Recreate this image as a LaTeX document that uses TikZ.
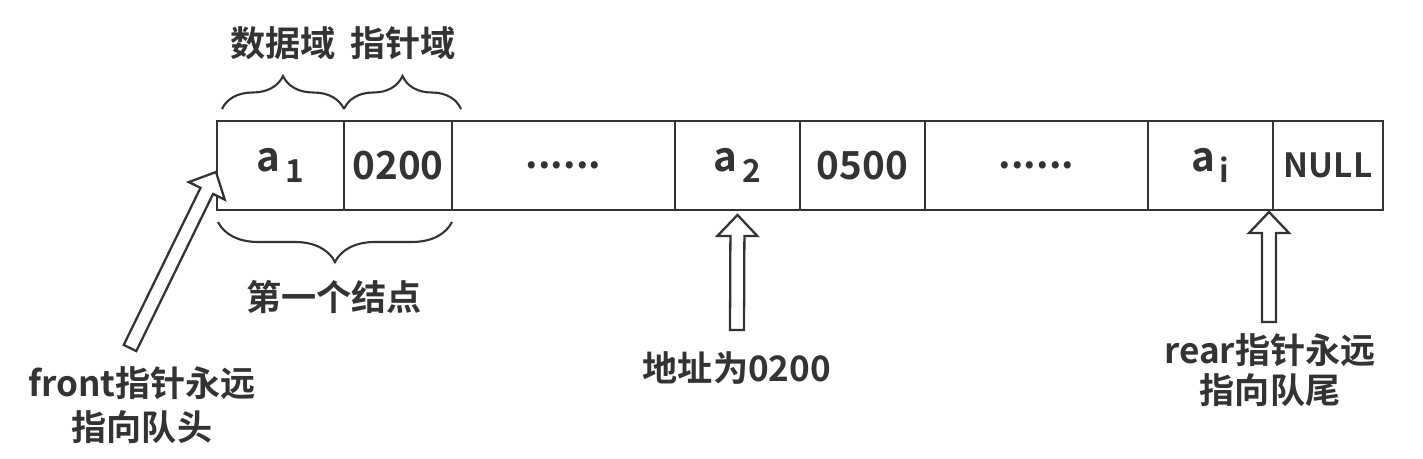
\documentclass[tikz,border=0pt]{standalone}
\usepackage{fontspec}
\setmainfont{Noto Sans CJK SC}[BoldFont={Noto Sans CJK SC Bold}]
\usetikzlibrary{positioning,calc,decorations.pathreplacing}

\definecolor{inkgray}{HTML}{333333}

% element a with its index
\newcommand{\elem}[1]{{\fontsize{23}{24}\selectfont a}\hspace{0.12em}\raisebox{-0.55ex}{\fontsize{18}{20}\selectfont #1}}

% hollow block arrow from #1 (tail) to #2 (tip)
\newcommand{\hollowarrow}[2]{%
  \coordinate (hb) at ($(#2)!0.42cm!(#1)$);
  \draw[hollow] ($(#1)!0.14cm!90:(#2)$) -- ($(hb)!0.14cm!90:(#2)$)
    -- ($(hb)!0.4cm!90:(#2)$) -- (#2) -- ($(hb)!0.4cm!-90:(#2)$)
    -- ($(hb)!0.14cm!-90:(#2)$) -- ($(#1)!0.14cm!-90:(#2)$) -- cycle;
}

\tikzset{
  cell/.style={draw=inkgray, line width=1.6pt, minimum height=1.78cm,
    inner sep=0pt, outer sep=0pt, text=inkgray,
    font=\bfseries\fontsize{22}{26}\selectfont},
  lbl/.style={text=inkgray, font=\bfseries\fontsize{20}{25}\selectfont,
    align=center, inner sep=0pt},
  brc/.style={draw=inkgray, line width=1.2pt, decorate,
    decoration={brace, amplitude=#1}},
  hollow/.style={draw=inkgray, line width=1.3pt, fill=white, line join=miter}
}

\begin{document}
\begin{tikzpicture}[x=0.02cm,y=-0.02cm]
    \useasboundingbox (0,0) rectangle (1423,459);

    % Cells of the queue
    \foreach \nm/\xa/\xb/\txt in {
        a1/217/344/{\elem{1}},
        p1/344/452/{0200},
        dots1/452/675/{......},
        a2/675/800/{\elem{2}},
        p2/800/925/{0500},
        dots2/925/1148/{......},
        ai/1148/1273/{\elem{i}},
        pnull/1273/1383/{\fontsize{19}{20}\selectfont NULL}} {
        \node[cell, minimum width={(\xb-\xa)*0.02cm}] (\nm) at ({(\xa+\xb)/2},165.5) {\txt};
    }

    % Braces
    \draw[brc=0.66cm] ($(a1.north west)+(5,-12)$) -- ($(a1.north east)+(0,-12)$)
        coordinate[midway] (datatip);
    \draw[brc=0.66cm] ($(p1.north west)+(0,-12)$) -- ($(p1.north east)+(9,-12)$)
        coordinate[midway] (ptrtip);
    \draw[brc=0.8cm] ($(p1.south east)+(0,12)$) -- ($(a1.south west)+(1,12)$)
        coordinate[midway] (nodetip);

    \node[lbl] (datalbl) at (283,43) {数据域};
    \node[lbl] (ptrlbl) at (403,43) {指针域};
    \node[lbl] (nodelbl) at (334,297) {第一个结点};

    % Pointer labels
    \node[lbl] (frontlbl) at (142,405) {front指针永远\\指向队头};
    \node[lbl] (addrlbl) at (737,368) {地址为0200};
    \node[lbl, font=\bfseries\fontsize{20}{23}\selectfont] (rearlbl) at (1270,370) {rear指针永远\\指向队尾};

    % Hollow arrows
    \coordinate (fronttail) at (130,348);
    \coordinate (fronttip) at (216,172);
    \hollowarrow{fronttail}{fronttip}

    \coordinate (addrtail) at (737,330);
    \coordinate (addrtip) at ($(a2.south)+(0,5)$);
    \hollowarrow{addrtail}{addrtip}

    \coordinate (reartail) at (1269,322);
    \coordinate (reartip) at ($(ai.south east)+(-4,2)$);
    \hollowarrow{reartail}{reartip}
\end{tikzpicture}
\end{document}
